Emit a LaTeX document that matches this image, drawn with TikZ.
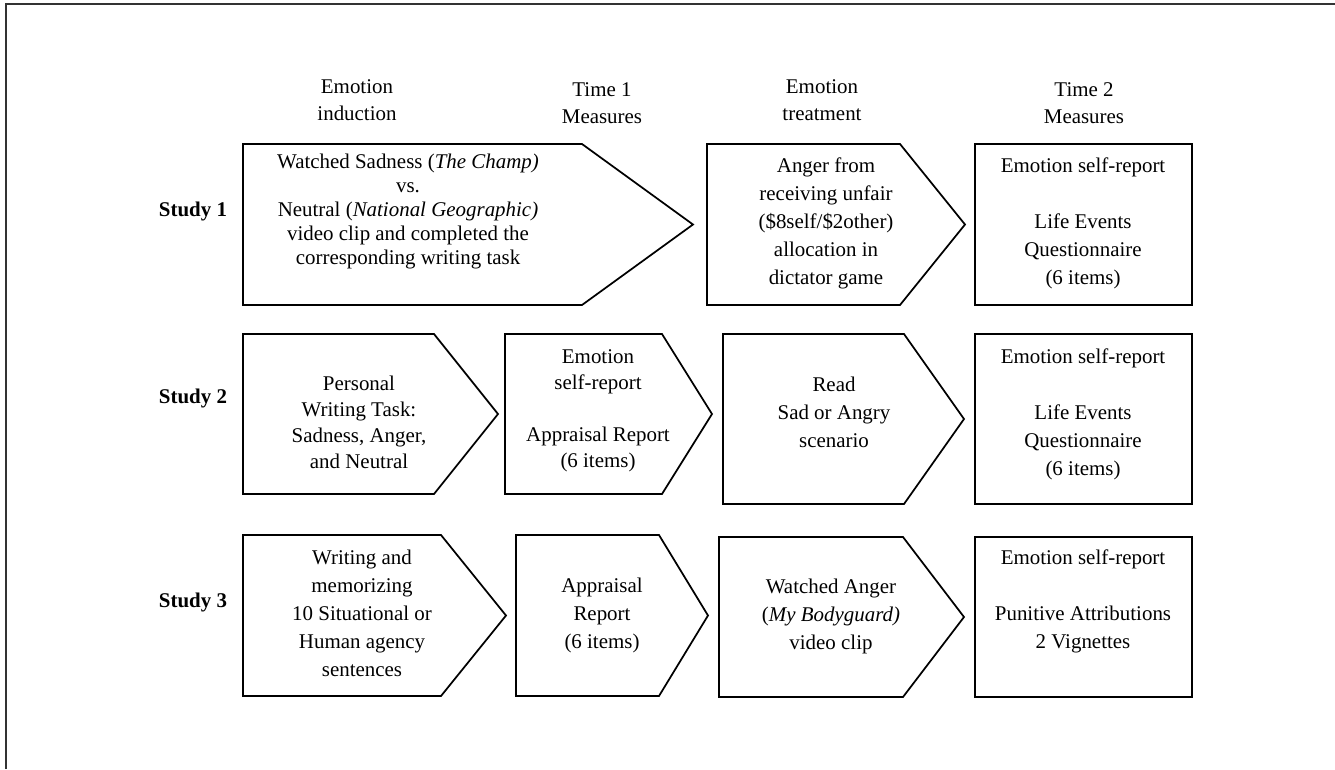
\documentclass[tikz,border=0pt]{standalone}
\usepackage{fontspec}
\setmainfont{Liberation Serif}
\newcommand\sst{\vphantom{Ag}}
\begin{document}
\begin{tikzpicture}[x=0.75pt,y=-0.75pt,
  shapeline/.style={draw=black,line width=1.3pt,line join=miter},
  lbl/.style={align=center,inner sep=0pt,font=\fontsize{15.7}{21}\selectfont},
  lbltight/.style={align=center,inner sep=0pt,font=\fontsize{15.7}{18}\selectfont},
  lblmid/.style={align=center,inner sep=0pt,font=\fontsize{15.7}{19.5}\selectfont},
  hdr/.style={align=center,inner sep=0pt,font=\fontsize{15.7}{20.3}\selectfont},
  study/.style={inner sep=0pt,font=\fontsize{15.7}{19}\selectfont\bfseries}]
\useasboundingbox (0,0) rectangle (1335,769);
\draw[black!80,line width=1.1pt] (6,769) -- (6,4) -- (1335,4);

% headers
\node[hdr] (h1) at (357,102.5) {\sst Emotion\\induction\sst};
\node[hdr] (h2) at (602,105) {\sst Time 1\\Measures\sst};
\node[hdr] (h3) at (822,102.5) {\sst Emotion\\treatment\sst};
\node[hdr] (h4) at (1084,105) {\sst Time 2\\Measures\sst};

% study labels
\node[study] (s1) at (193,211) {Study 1};
\node[study] (s2) at (193,398) {Study 2};
\node[study] (s3) at (193,602) {Study 3};

% row 1
\draw[shapeline] (243,144) -- (582,144) -- (693,224.5) -- (582,305) -- (243,305) -- cycle;
\draw[shapeline] (707,144) -- (900,144) -- (965,224.5) -- (900,305) -- (707,305) -- cycle;
\draw[shapeline] (975,144) rectangle (1192,305);
\node[lbltight] (a1) at (408,211) {\sst Watched Sadness (\textit{The Champ)}\\vs.\\Neutral (\textit{National Geographic)}\\video clip and completed the\\corresponding writing task\sst};
\node[lbl] (b1) at (826,223) {\sst Anger from\\receiving unfair\\(\$8self/\$2other)\\allocation in\\dictator game\sst};
\node[lbl] (c1) at (1083,223.5) {\sst Emotion self-report\\[21pt]Life Events\\Questionnaire\\(6 items)\sst};

% row 2
\draw[shapeline] (243,334) -- (434,334) -- (498,414) -- (434,494) -- (243,494) -- cycle;
\draw[shapeline] (505,334) -- (662,334) -- (712,414) -- (662,494) -- (505,494) -- cycle;
\draw[shapeline] (723,334) -- (904,334) -- (964,419) -- (904,504) -- (723,504) -- cycle;
\draw[shapeline] (975,334) rectangle (1192,504);
\node[lblmid] (a2) at (359,424) {\sst Personal\\Writing Task:\\Sadness, Anger,\\and Neutral\sst};
\node[lblmid] (b2) at (598,411) {\sst Emotion\\self-report\\[19.5pt]Appraisal Report\\(6 items)\sst};
\node[lbl] (c2) at (834,414) {\sst Read\\Sad or Angry\\scenario\sst};
\node[lbl] (d2) at (1083,414) {\sst Emotion self-report\\[21pt]Life Events\\Questionnaire\\(6 items)\sst};

% row 3
\draw[shapeline] (243,535) -- (441,535) -- (506,615.5) -- (441,696) -- (243,696) -- cycle;
\draw[shapeline] (516,535) -- (659,535) -- (708,615.5) -- (659,696) -- (516,696) -- cycle;
\draw[shapeline] (719,537) -- (903,537) -- (964,617) -- (903,697) -- (719,697) -- cycle;
\draw[shapeline] (975,537) rectangle (1192,697);
\node[lbl] (a3) at (362,615) {\sst Writing and\\memorizing\\10 Situational or\\Human agency\\sentences\sst};
\node[lbl] (b3) at (602,615) {\sst Appraisal\\Report\\(6 items)\sst};
\node[lbl] (c3) at (831,616) {\sst Watched Anger\\(\textit{My Bodyguard)}\\video clip\sst};
\node[lbl] (d3) at (1083,601) {\sst Emotion self-report\\[21pt]Punitive Attributions\\2 Vignettes\sst};
\end{tikzpicture}
\end{document}
